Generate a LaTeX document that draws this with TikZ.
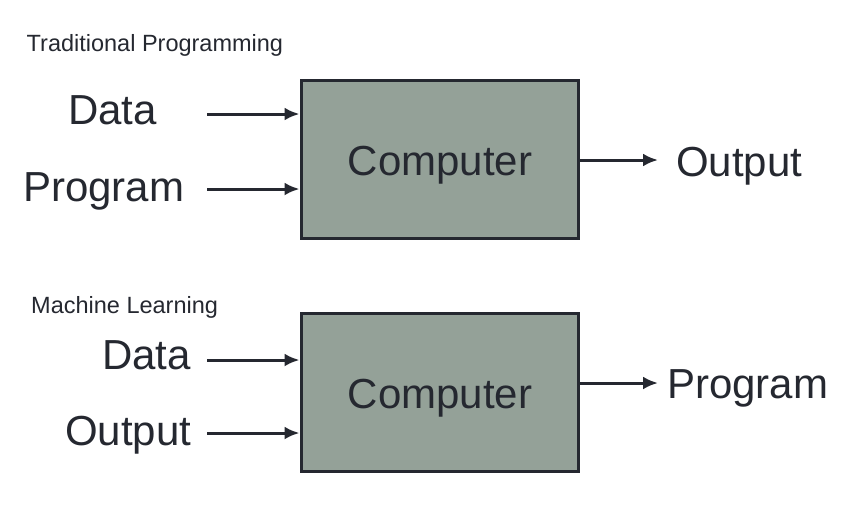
\documentclass[tikz,border=0pt]{standalone}
\usepackage{fontspec}
\setmainfont{Liberation Sans}
\usetikzlibrary{arrows.meta}
\definecolor{boxfill}{RGB}{148,161,152}
\definecolor{ink}{RGB}{37,40,48}
\begin{document}
\begin{tikzpicture}[x=1pt,y=-1pt,
  big/.style={inner sep=0pt,anchor=base west,text=ink,font=\fontsize{42}{48}\selectfont},
  small/.style={inner sep=0pt,anchor=base west,text=ink,font=\fontsize{23.5}{28}\selectfont},
  compbox/.style={draw=ink,fill=boxfill,line width=3pt,minimum width=277pt,minimum height=158pt,inner sep=0pt},
  flow/.style={draw=ink,line width=3pt,-{Latex[length=15pt,width=13pt]}}]
\useasboundingbox (0,0) rectangle (842,509);
% top diagram
\node[small] (t1) at (26.5,51.5) {Traditional Programming};
\node[compbox] (c1) at (439.5,159.5) {};
\node[big] (c1t) at (347.5,175) {Computer};
\node[big] (d1) at (68,124) {Data};
\node[big] (p1) at (23,201) {Program};
\node[big] (o1) at (676,176) {Output};
\coordinate (d1s) at (207,114);
\coordinate (p1s) at (207,189);
\coordinate (o1e) at (658,160);
\draw[flow] (d1s) -- (d1s -| c1.west);
\draw[flow] (p1s) -- (p1s -| c1.west);
\draw[flow] (o1e -| c1.east) -- (o1e);
% bottom diagram
\node[small] (t2) at (31,313) {Machine Learning};
\node[compbox] (c2) at (439.5,392.5) {};
\node[big] (c2t) at (347.5,408) {Computer};
\node[big] (d2) at (102,369) {Data};
\node[big] (o2) at (65,445) {Output};
\node[big] (p2) at (667,398) {Program};
\coordinate (d2s) at (207,360);
\coordinate (o2s) at (207,433);
\coordinate (p2e) at (658,383);
\draw[flow] (d2s) -- (d2s -| c2.west);
\draw[flow] (o2s) -- (o2s -| c2.west);
\draw[flow] (p2e -| c2.east) -- (p2e);
\end{tikzpicture}
\end{document}
